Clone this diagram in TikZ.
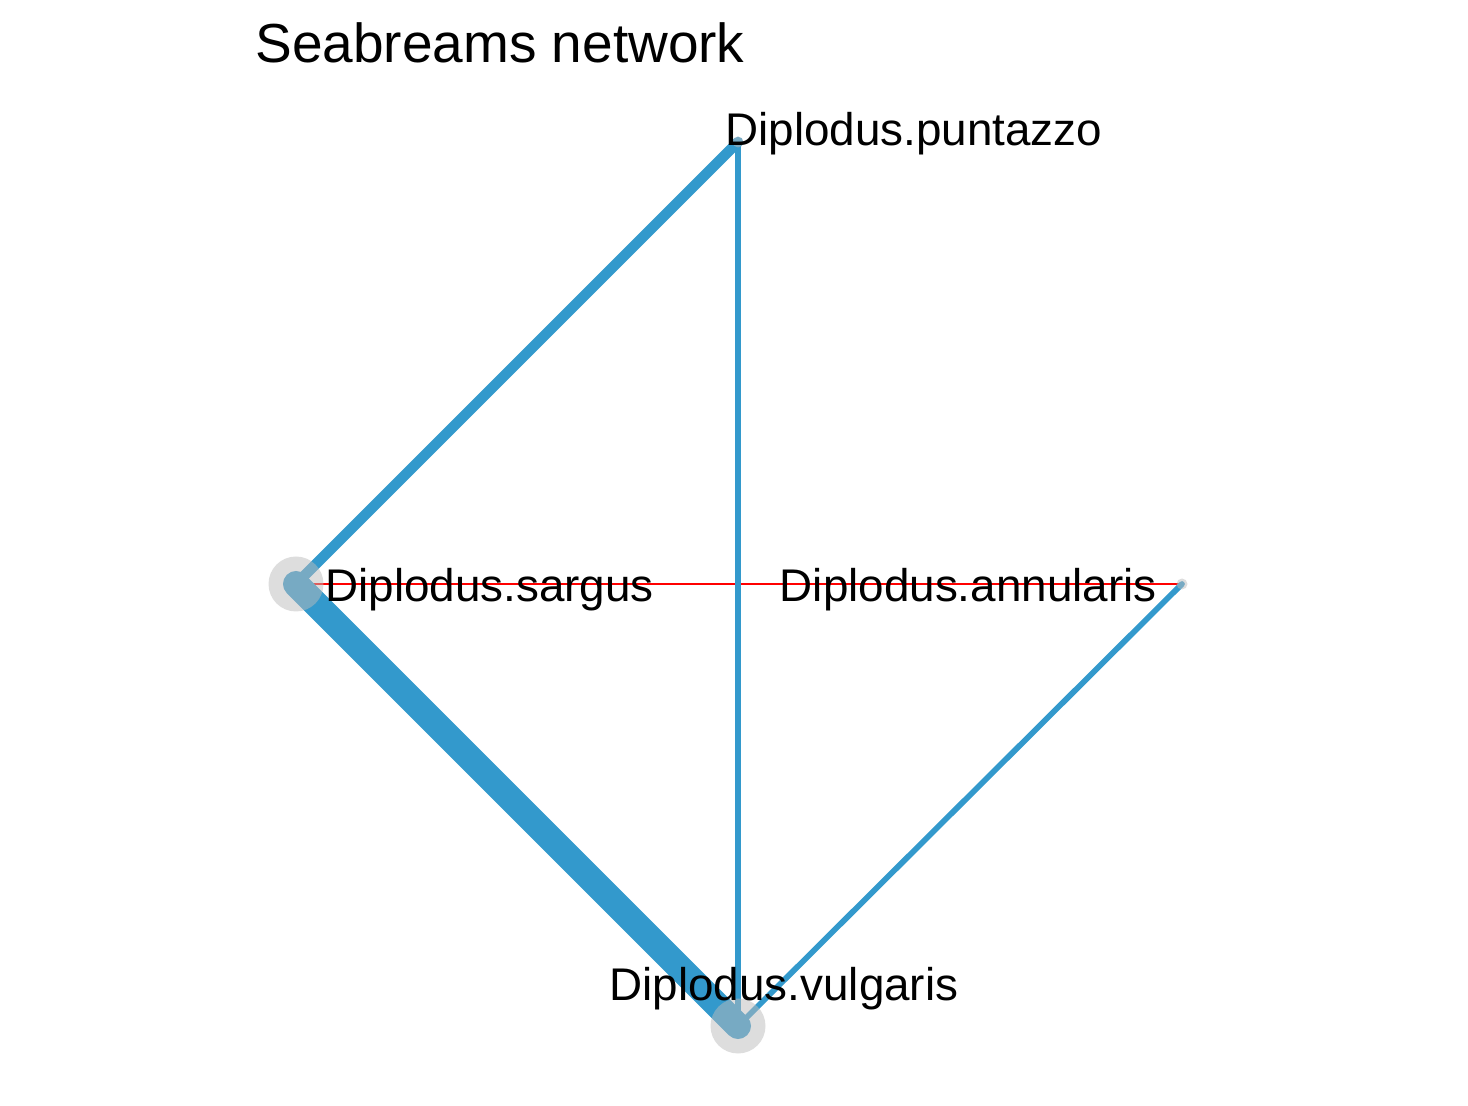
\documentclass[tikz,border=0pt]{standalone}
\usepackage{fontspec}
\setmainfont{Liberation Sans}
\usepackage{xcolor}
\definecolor{edgeblue}{RGB}{51,153,204}
\definecolor{dotgray}{RGB}{187,187,187}
\definecolor{armred}{RGB}{255,0,0}
\tikzset{
  treat/.style={ % image of a treatment point (size in pt)
    circle, fill=dotgray, fill opacity=0.5,
    inner sep=0pt, minimum size=#1
  },
  treat/.default=27.5pt,
  lab/.style={ % image of a treatment label
    inner sep=0pt, text=black,
    font=\fontsize{22.9}{27}\selectfont
  },
  comp/.style={ % image of a direct comparison
    draw=edgeblue, line cap=round, line width=#1
  },
  multi/.style={ % multi-arm study
    draw=armred, line width=0.6pt
  }
}
\begin{document}
\begin{tikzpicture}[x=0.5pt, y=-0.5pt]
    \useasboundingbox (0,0) rectangle (1468,1106);

    \node[lab, anchor=base west] (title) at (255,63)
      {\fontsize{27.5}{32}\selectfont Seabreams network};

    \coordinate (s) at (296,584);
    \coordinate (p) at (738,142);
    \coordinate (a) at (1182,584);
    \coordinate (v) at (738,1026);

    \draw[multi] (s) -- (a);
    \path[comp=3pt] (p) -- (v);
    \path[comp=2.85pt] (a) -- (v);
    \path[comp=5.25pt] (s) -- (p);
    \path[comp=13pt] (s) -- (v);

    \node[treat] (sargus) at (s) {};
    \node[treat] (vulgaris) at (v) {};
    \node[treat=5.5pt] (puntazzo) at (p) {};
    \node[treat=5.5pt] (annularis) at (a) {};

    \node[lab, anchor=base west] (sargus_label) at ([shift={(29,18)}]sargus.center) {Diplodus.sargus};
    \node[lab, anchor=base east] (annularis_label) at ([shift={(-25,18)}]annularis.center) {Diplodus.annularis};
    \node[lab, anchor=base west] (puntazzo_label) at ([shift={(-13,4)}]puntazzo.center) {Diplodus.puntazzo};
    \node[lab, anchor=base] (vulgaris_label) at ([shift={(46,-26)}]vulgaris.center) {Diplodus.vulgaris};
\end{tikzpicture}
\end{document}
